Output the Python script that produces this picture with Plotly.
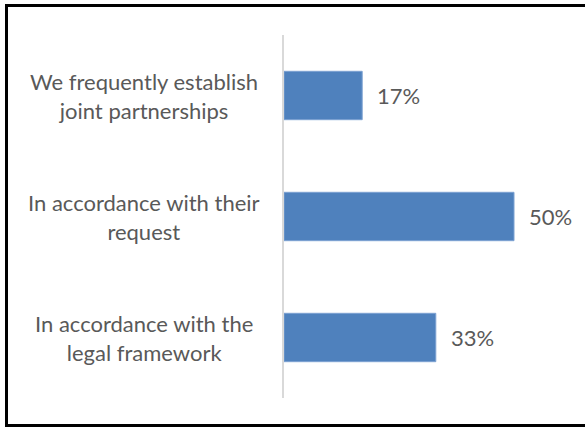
import plotly.graph_objects as go

categories = [
    "We frequently establish<br>joint partnerships",
    "In accordance with their<br>request",
    "In accordance with the<br>legal framework",
]
values = [17, 50, 33]
value_labels = ["17%", "50%", "33%"]

FONT = "Lato"
TEXT_COLOR = "#595959"
FS = 22

fig = go.Figure()
fig.add_trace(go.Bar(
    x=values,
    y=categories,
    orientation="h",
    marker=dict(color="#4F81BD", line=dict(color="#7da2d2", width=1)),
    hoverinfo="skip",
))

annotations = []
for cat, val, lab in zip(categories, values, value_labels):
    annotations.append(dict(
        x=val, y=cat, xref="x", yref="y", text=lab, showarrow=False,
        xanchor="left", yanchor="middle", xshift=13,
        font=dict(family=FONT, size=FS, color=TEXT_COLOR),
    ))
    annotations.append(dict(
        x=(144 - 284) / 276, y=cat, xref="paper", yref="y", text=cat,
        showarrow=False, xanchor="center", yanchor="middle", align="center",
        font=dict(family=FONT, size=FS, color=TEXT_COLOR),
    ))

# frame: left, top and bottom edges drawn as an open path (no right edge)
px = lambda v: (v - 284) / 276
py = lambda v: (398 - v) / 363
path = (f"M {px(700)},{py(5.5)} L {px(6.5)},{py(5.5)} "
        f"L {px(6.5)},{py(425.5)} L {px(700)},{py(425.5)}")
shapes = [dict(type="path", xref="paper", yref="paper", path=path,
               line=dict(color="black", width=3), fillcolor="rgba(0,0,0,0)",
               layer="above")]

fig.update_layout(
    width=585, height=428,
    margin=dict(l=284, r=25, t=35, b=30),
    paper_bgcolor="white", plot_bgcolor="white",
    showlegend=False,
    bargap=0.6,
    xaxis=dict(range=[0, 60], visible=False, showgrid=False, zeroline=False),
    yaxis=dict(autorange="reversed", showticklabels=False, showgrid=False,
               zeroline=False, showline=True, linecolor="#d9d9d9", linewidth=2,
               ticks=""),
    annotations=annotations,
    shapes=shapes,
)

fig.write_html(
    "out.html", config={"displayModeBar": False},
    post_script=(
        "document.body.style.margin='0';"
        "document.body.style.overflow='hidden';"
        "document.documentElement.style.overflow='hidden';"
    ),
)
